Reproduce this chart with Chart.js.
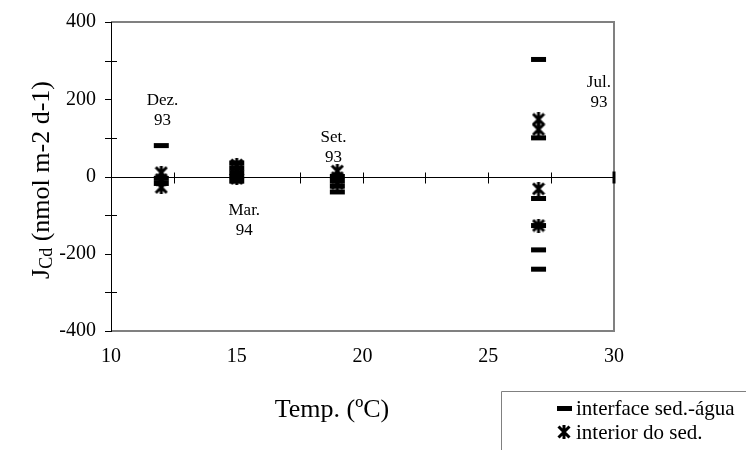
<!DOCTYPE html>
<html>
<head>
<meta charset="utf-8">
<script src="https://cdn.jsdelivr.net/npm/chart.js@4/dist/chart.umd.min.js"></script>
<style>
  html, body { margin: 0; padding: 0; background: #fff; }
  #wrap { width: 746px; height: 450px; position: relative; }
</style>
</head>
<body>
<div id="wrap"><canvas id="c" width="746" height="450"></canvas></div>
<script>
// Cd flux across the sediment-water interface and inside the sediment vs. temperature
const interfaceTemp = [12, 12, 12, 15, 15, 15, 15, 15, 19, 19, 19, 19, 27, 27, 27, 27, 27, 27];
const interfaceFlux = [80, -5, -18, 35, 22, 10, 0, -12, 0, -12, -25, -40, 303, 100, -57, -127, -190, -240];

const interiorTemp = [12, 12, 12, 15, 15, 15, 15, 19, 19, 19, 27, 27, 27, 27];
const interiorFlux = [10, -8, -28, 30, 15, 4, -5, 14, -3, -18, 148, 122, -32, -127];

// campaign labels (two lines each) and where they sit in data units
const campaignLines = [["Dez.", "93"], ["Mar.", "94"], ["Set.", "93"], ["Jul.", "93"]];
const campaignTemp = [12.05, 15.3, 18.85, 29.4];
const campaignFlux = [197, -88, 100, 243];

const seriesNames = ["interface sed.-água", "interior do sed."];
const xTicks = [10, 15, 20, 25, 30];
const yTicks = [-400, -200, 0, 200, 400];

const SERIF = "'Liberation Serif', 'Times New Roman', serif";

// asterisk marker: an X crossed by a vertical bar
function makeAsterisk(size, lw) {
  const cv = document.createElement('canvas');
  cv.width = size; cv.height = size;
  const g = cv.getContext('2d');
  g.strokeStyle = '#000';
  g.lineWidth = lw;
  g.lineCap = 'butt';
  const m = lw / 2, e = size - lw / 2, c = size / 2;
  g.beginPath();
  g.moveTo(m, m); g.lineTo(e, e);
  g.moveTo(e, m); g.lineTo(m, e);
  g.moveTo(c, 0); g.lineTo(c, size);
  g.stroke();
  return cv;
}
const asterisk = makeAsterisk(14, 3);

function pts(xs, ys) { return xs.map((x, i) => ({ x: x, y: ys[i] })); }

const frame = {
  id: 'frame',
  beforeDatasetsDraw(chart) {
    const { ctx, chartArea: a, scales: { x, y } } = chart;
    ctx.save();
    // grey box around the plot
    ctx.strokeStyle = '#808080';
    ctx.lineWidth = 2;
    ctx.beginPath();
    ctx.moveTo(a.left, a.top); ctx.lineTo(a.right, a.top);
    ctx.lineTo(a.right, a.bottom); ctx.lineTo(a.left, a.bottom);
    ctx.stroke();
    // value axis
    ctx.strokeStyle = '#000';
    ctx.lineWidth = 1;
    ctx.beginPath();
    ctx.moveTo(a.left + 0.5, a.top); ctx.lineTo(a.left + 0.5, a.bottom);
    for (let v = -400; v <= 400; v += 100) {
      const py = Math.round(y.getPixelForValue(v)) + 0.5;
      const major = v % 200 === 0;
      ctx.moveTo(a.left - 6, py); ctx.lineTo(a.left + (major ? 1 : 6), py);
    }
    // zero line with crossing tick marks every 2.5 degrees
    const y0 = Math.round(y.getPixelForValue(0)) + 0.5;
    ctx.moveTo(a.left, y0); ctx.lineTo(a.right, y0);
    for (let t = 12.5; t < 30; t += 2.5) {
      const px = Math.round(x.getPixelForValue(t)) + 0.5;
      ctx.moveTo(px, y0 - 5); ctx.lineTo(px, y0 + 6);
    }
    ctx.stroke();
    ctx.lineWidth = 3;
    ctx.beginPath();
    const pr = x.getPixelForValue(30);
    ctx.moveTo(pr, y0 - 6); ctx.lineTo(pr, y0 + 6);
    ctx.stroke();
    ctx.restore();
  },
  afterDatasetsDraw(chart) {
    const { ctx, chartArea: a, scales: { x, y } } = chart;
    ctx.save();
    ctx.fillStyle = '#000';
    // campaign labels
    ctx.font = '17px ' + SERIF;
    ctx.textAlign = 'center';
    ctx.textBaseline = 'middle';
    campaignLines.forEach((lines, i) => {
      const px = x.getPixelForValue(campaignTemp[i]);
      const py = y.getPixelForValue(campaignFlux[i]);
      lines.forEach((s, j) => ctx.fillText(s, px, py + j * 20));
    });
    // x title
    ctx.font = '26px ' + SERIF;
    ctx.fillText('Temp. (ºC)', 332, 410);
    // y title with subscript
    ctx.translate(40, 180);
    ctx.rotate(-Math.PI / 2);
    const big = '26px ' + SERIF, small = '18px ' + SERIF;
    const parts = [['J', big, 0], ['Cd', small, 3], [' (nmol m-2 d-1)', big, 0]];
    let w = 0;
    parts.forEach(p => { ctx.font = p[1]; w += ctx.measureText(p[0]).width; });
    let cx = -w / 2;
    ctx.textAlign = 'left';
    ctx.textBaseline = 'alphabetic';
    parts.forEach(p => {
      ctx.font = p[1];
      ctx.fillText(p[0], cx, 9 + p[2]);
      cx += ctx.measureText(p[0]).width;
    });
    ctx.restore();

    // legend box
    ctx.save();
    ctx.strokeStyle = '#808080';
    ctx.lineWidth = 1;
    ctx.beginPath();
    ctx.moveTo(501.5, 460); ctx.lineTo(501.5, 391.5); ctx.lineTo(760, 391.5);
    ctx.stroke();
    ctx.fillStyle = '#000';
    ctx.fillRect(557, 406, 15, 5);
    ctx.drawImage(asterisk, 557, 425);
    ctx.font = '21px ' + SERIF;
    ctx.textAlign = 'left';
    ctx.textBaseline = 'middle';
    ctx.fillText(seriesNames[0], 576, 409);
    ctx.fillText(seriesNames[1], 576, 433);
    ctx.restore();
  }
};

new Chart(document.getElementById('c'), {
  type: 'scatter',
  data: {
    datasets: [
      {
        label: seriesNames[0],
        data: pts(interfaceTemp, interfaceFlux),
        pointStyle: 'line',
        radius: 7.5,
        borderWidth: 5,
        borderColor: '#000',
        backgroundColor: '#000'
      },
      {
        label: seriesNames[1],
        data: pts(interiorTemp, interiorFlux),
        pointStyle: asterisk,
        borderColor: '#000',
        backgroundColor: '#000'
      }
    ]
  },
  options: {
    responsive: false,
    animation: false,
    events: [],
    layout: { padding: { top: 22, right: 132, left: 0, bottom: 0 } },
    plugins: { legend: { display: false }, tooltip: { enabled: false } },
    scales: {
      x: {
        type: 'linear', min: 10, max: 30,
        afterFit(s) { s.height = 119; s.paddingLeft = 0; s.paddingRight = 0; },
        afterBuildTicks(s) { s.ticks = xTicks.map(v => ({ value: v })); },
        grid: { display: false, drawTicks: false },
        border: { display: false },
        ticks: { color: '#000', padding: 14, font: { family: SERIF, size: 20 } }
      },
      y: {
        type: 'linear', min: -400, max: 400,
        afterFit(s) { s.width = 111; s.paddingTop = 0; s.paddingBottom = 0; },
        afterBuildTicks(s) { s.ticks = yTicks.map(v => ({ value: v })); },
        grid: { display: false, drawTicks: false },
        border: { display: false },
        ticks: { color: '#000', padding: 15, font: { family: SERIF, size: 20 } }
      }
    }
  },
  plugins: [frame]
});
</script>
</body>
</html>
